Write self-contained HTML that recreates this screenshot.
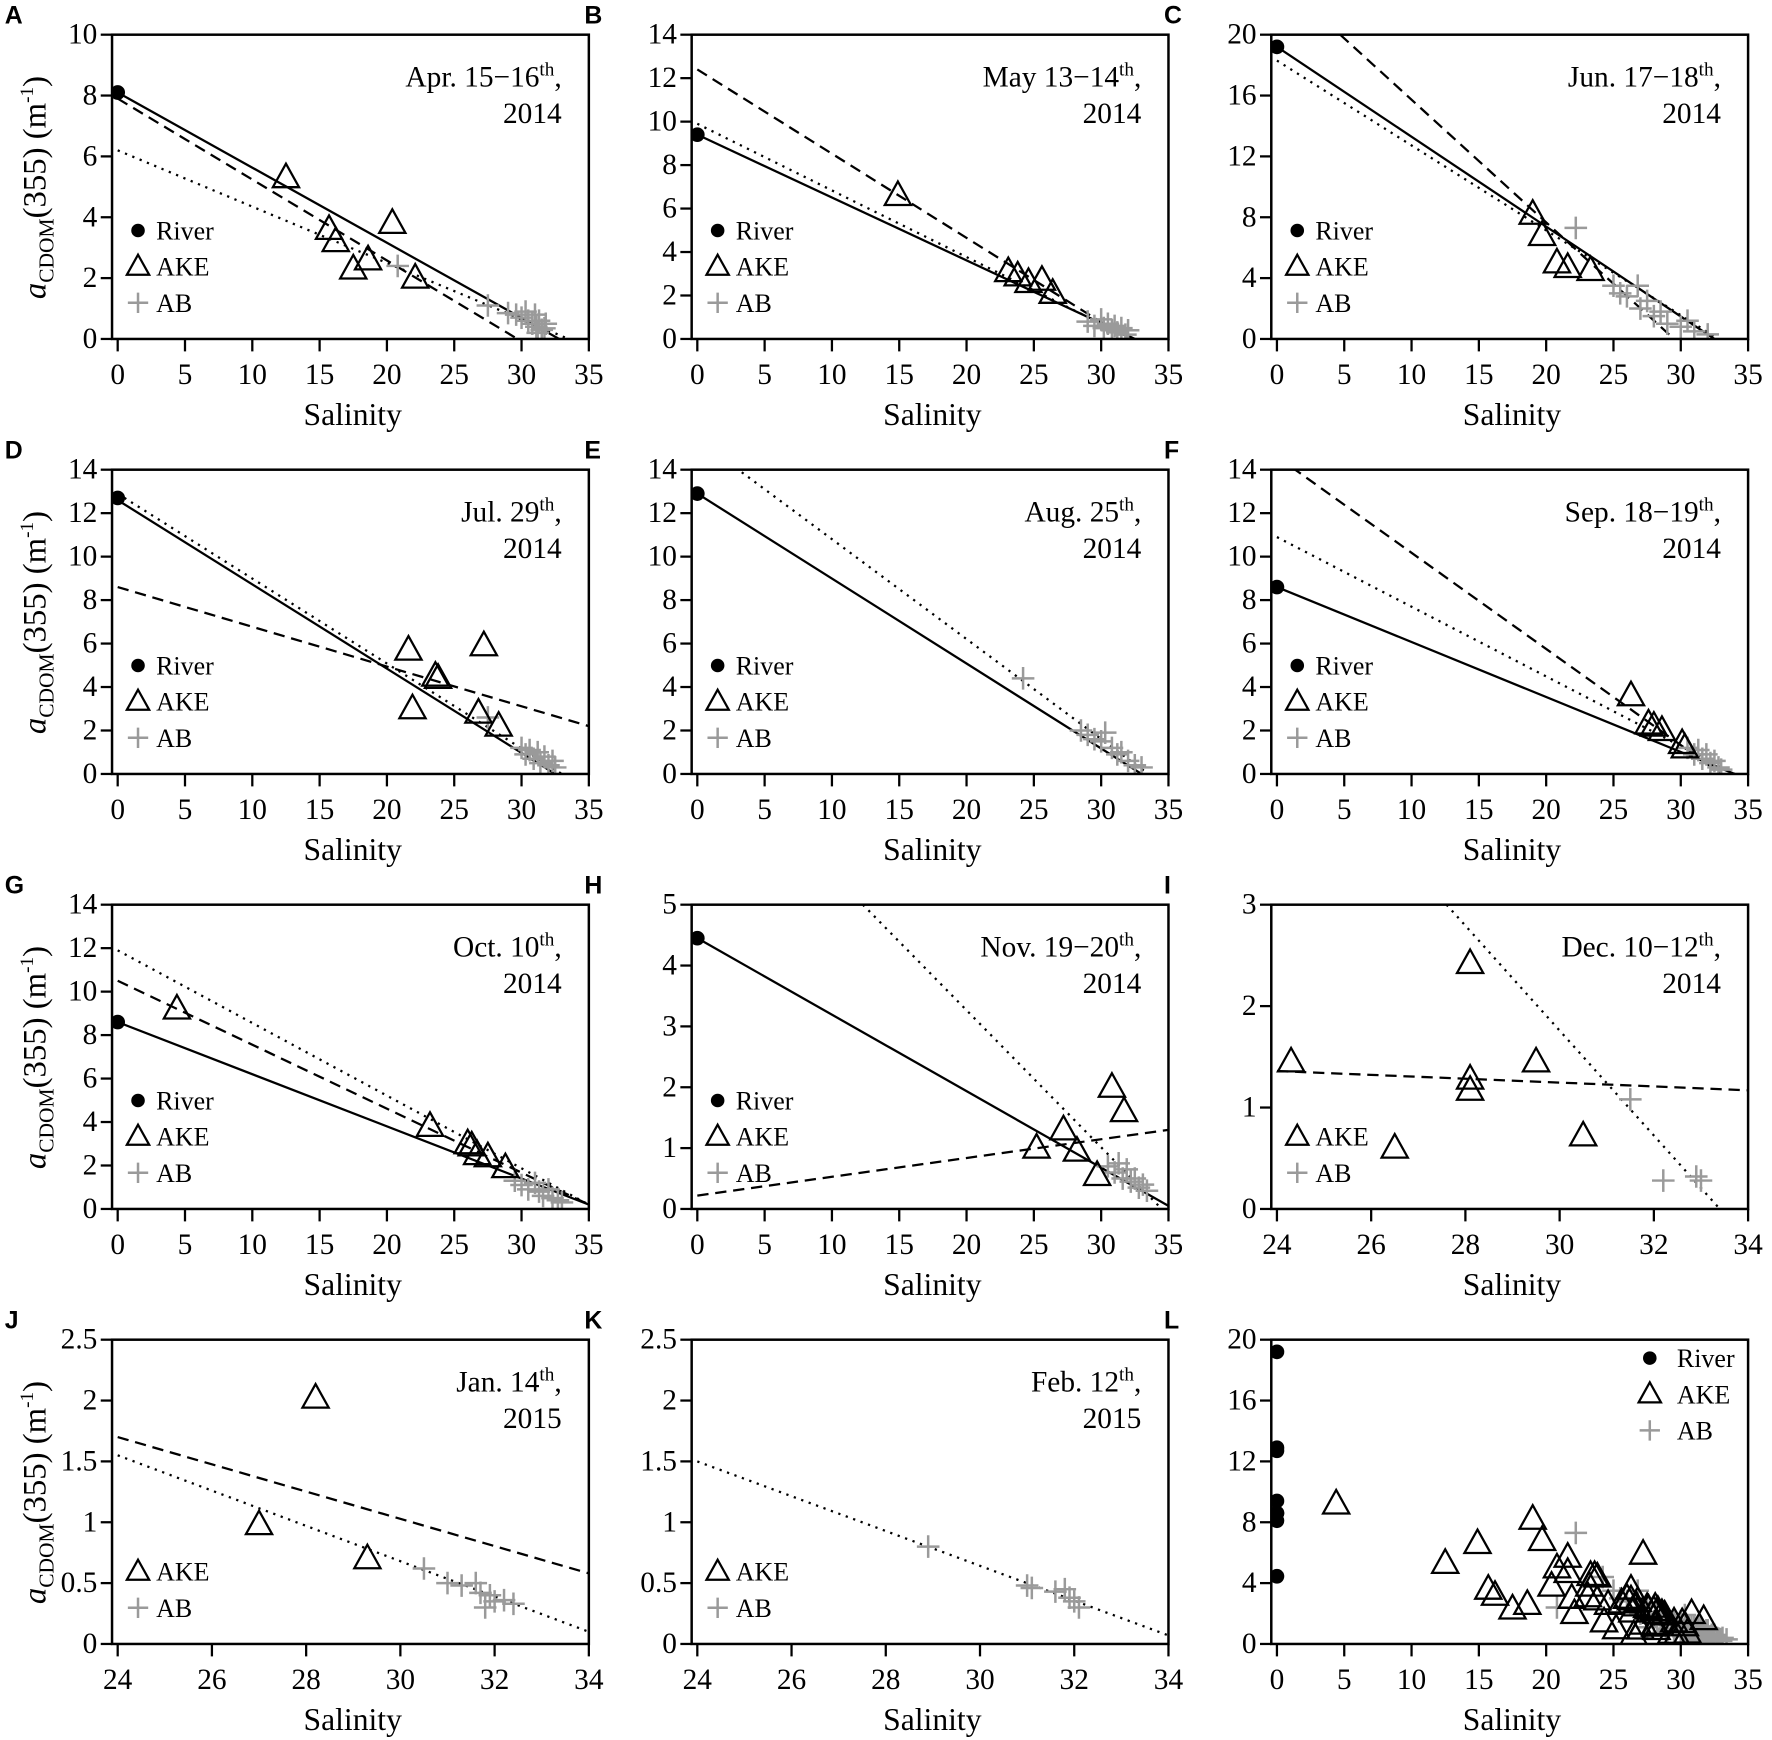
<!DOCTYPE html>
<html><head><meta charset="utf-8"><style>
html,body{margin:0;padding:0;background:#fff}
svg{display:block}
text{font-family:"Liberation Serif",serif;fill:#000}
</style></head><body>
<svg id="fig" width="1772" height="1740" viewBox="0 0 1568 1540" xmlns="http://www.w3.org/2000/svg"></svg>
<script>
// ---- data (salinity, aCDOM) ----
const A_river=[[0,8.1]];
const A_ake=[[12.5,5.3],[15.7,3.6],[16.2,3.2],[17.5,2.3],[18.6,2.6],[20.4,3.8],[22.1,2.0]];
const A_ab=[[20.8,2.4],[27.5,1.1],[29,0.85],[29.6,0.8],[30,0.7],[30.3,0.9],[30.5,0.6],[30.8,0.5],[31,0.8],[31.1,0.4],[31.3,0.6],[31.5,0.3],[31.7,0.35],[31.2,0.2],[31.8,0.5]];
const A_lines=[['solid',[0,8.1],[32.8,0]],['dash',[0,7.9],[29.7,0]],['dot',[0,6.2],[33.5,0]]];

const B_river=[[0,9.4]];
const B_ake=[[14.9,6.6],[23.1,3.1],[23.8,2.9],[24.6,2.6],[25.6,2.7],[26.4,2.1]];
const B_ab=[[29,0.8],[29.5,0.6],[30,0.9],[30.2,0.5],[30.5,0.7],[30.8,0.4],[31,0.6],[31.2,0.3],[31.5,0.5],[31.8,0.2],[32,0.4]];
const B_lines=[['solid',[0,9.4],[32.5,0]],['dash',[0,12.4],[32,0]],['dot',[0,9.9],[32.3,0]]];

const C_river=[[0,19.2]];
const C_ake=[[19,8.2],[19.7,6.8],[20.8,5.0],[21.6,4.7],[23.3,4.5]];
const C_ab=[[22.2,7.3],[25,3.5],[25.5,3],[26,2.8],[26.8,3.5],[27,2],[27.5,2.5],[28,1.5],[28.5,1.8],[29,1],[30,0.8],[30.5,1.2],[31,0.5],[32,0.3]];
const C_lines=[['solid',[0,19.2],[32.5,0]],['dash',[4.7,20],[29.5,0]],['dot',[0,18.3],[32.8,0]]];

const D_river=[[0,12.7]];
const D_ake=[[21.6,5.7],[21.9,3.0],[23.6,4.5],[23.8,4.4],[27.2,5.9],[26.8,2.8],[28.3,2.2]];
const D_ab=[[27.5,2.6],[30,1.2],[30.3,0.9],[30.6,1.1],[30.9,0.7],[31.2,1.0],[31.4,0.5],[31.7,0.8],[32,0.4],[32.3,0.6],[32.5,0.3]];
const D_lines=[['solid',[0,12.6],[32.5,0]],['dash',[0,8.6],[35,2.2]],['dot',[0,12.9],[33,0]]];

const E_river=[[0,12.9]];
const E_ake=[];
const E_ab=[[24.2,4.4],[28.5,2.0],[29,1.8],[29.5,1.6],[30,1.5],[30.3,1.9],[30.8,1.2],[31.2,0.9],[31.5,1.0],[32,0.6],[32.5,0.4],[33,0.3]];
const E_lines=[['solid',[0,12.9],[33,0]],['dot',[0,15.4],[33.5,0]]];

const F_river=[[0,8.6]];
const F_ake=[[26.3,3.6],[27.6,2.3],[28,2.2],[28.6,2.0],[30.1,1.4],[30.3,1.2]];
const F_ab=[[30.5,1.2],[31,0.9],[31.3,1.1],[31.6,0.7],[31.9,0.9],[32.2,0.5],[32.5,0.6],[32.8,0.3],[33,0.2]];
const F_lines=[['solid',[0,8.6],[34,0]],['dash',[0,14.6],[33,0]],['dot',[0,10.9],[34,0]]];

const G_river=[[0,8.6]];
const G_ake=[[4.4,9.2],[23.2,3.8],[26,3.0],[26.3,2.9],[26.7,2.5],[27.5,2.4],[28.8,1.9]];
const G_ab=[[29.5,1.3],[30,1.1],[30.5,0.9],[31,1.2],[31.3,0.8],[31.6,0.6],[32,0.9],[32.3,0.5],[32.7,0.4],[33,0.3]];
const G_lines=[['solid',[0,8.6],[35,0.2]],['dash',[0,10.5],[35,0.2]],['dot',[0,11.9],[35,0.2]]];

const H_river=[[0,4.45]];
const H_ake=[[25.2,1.0],[27.2,1.3],[28.2,0.95],[29.7,0.55],[30.8,2.0],[31.7,1.6]];
const H_ab=[[30.5,0.7],[31,0.6],[31.3,0.75],[31.6,0.5],[31.9,0.65],[32.2,0.45],[32.5,0.5],[32.8,0.35],[33.1,0.4],[33.4,0.3]];
const H_lines=[['solid',[0,4.45],[35,0.05]],['dash',[0,0.22],[35,1.3]],['dot',[12.3,5],[34.5,0]]];

const I_river=[];
const I_ake=[[24.3,1.45],[26.5,0.6],[28.1,2.42],[28.1,1.28],[28.1,1.17],[29.5,1.45],[30.5,0.72]];
const I_ab=[[31.5,1.08],[32.2,0.28],[32.9,0.32],[33,0.28]];
const I_lines=[['dash',[24,1.36],[34,1.17]],['dot',[27.6,3],[33.4,0]]];

const J_river=[];
const J_ake=[[28.2,2.02],[27,0.98],[29.3,0.7]];
const J_ab=[[30.5,0.62],[31,0.5],[31.3,0.48],[31.6,0.5],[31.7,0.42],[31.9,0.4],[32,0.35],[32.2,0.36],[32.4,0.33],[31.8,0.3]];
const J_lines=[['dash',[24,1.7],[34,0.58]],['dot',[24,1.55],[34,0.1]]];

const K_river=[];
const K_ake=[];
const K_ab=[[28.9,0.8],[31,0.48],[31.1,0.46],[31.6,0.43],[31.8,0.45],[31.9,0.38],[32,0.35],[32.1,0.3]];
const K_lines=[['dot',[24,1.5],[34,0.07]]];

const L_river=[].concat(A_river,B_river,C_river,D_river,E_river,F_river,G_river,H_river);
const L_ake=[].concat(A_ake,B_ake,C_ake,D_ake,F_ake,G_ake,H_ake,I_ake,J_ake);
const L_ab=[].concat(A_ab,B_ab,C_ab,D_ab,E_ab,F_ab,G_ab,H_ab,I_ab,J_ab,K_ab);

const salTicks=[0,5,10,15,20,25,30,35];
const salTicksB=[24,26,28,30,32,34];

const panels=[
 {id:'A',c:0,r:0,ymax:10,yt:[0,2,4,6,8,10],xt:salTicks,river:A_river,ake:A_ake,ab:A_ab,lines:A_lines,t1:'Apr. 15−16',t2:'2014',leg:['river','ake','ab']},
 {id:'B',c:1,r:0,ymax:14,yt:[0,2,4,6,8,10,12,14],xt:salTicks,river:B_river,ake:B_ake,ab:B_ab,lines:B_lines,t1:'May 13−14',t2:'2014',leg:['river','ake','ab']},
 {id:'C',c:2,r:0,ymax:20,yt:[0,4,8,12,16,20],xt:salTicks,river:C_river,ake:C_ake,ab:C_ab,lines:C_lines,t1:'Jun. 17−18',t2:'2014',leg:['river','ake','ab']},
 {id:'D',c:0,r:1,ymax:14,yt:[0,2,4,6,8,10,12,14],xt:salTicks,river:D_river,ake:D_ake,ab:D_ab,lines:D_lines,t1:'Jul. 29',t2:'2014',leg:['river','ake','ab']},
 {id:'E',c:1,r:1,ymax:14,yt:[0,2,4,6,8,10,12,14],xt:salTicks,river:E_river,ake:E_ake,ab:E_ab,lines:E_lines,t1:'Aug. 25',t2:'2014',leg:['river','ake','ab']},
 {id:'F',c:2,r:1,ymax:14,yt:[0,2,4,6,8,10,12,14],xt:salTicks,river:F_river,ake:F_ake,ab:F_ab,lines:F_lines,t1:'Sep. 18−19',t2:'2014',leg:['river','ake','ab']},
 {id:'G',c:0,r:2,ymax:14,yt:[0,2,4,6,8,10,12,14],xt:salTicks,river:G_river,ake:G_ake,ab:G_ab,lines:G_lines,t1:'Oct. 10',t2:'2014',leg:['river','ake','ab']},
 {id:'H',c:1,r:2,ymax:5,yt:[0,1,2,3,4,5],xt:salTicks,river:H_river,ake:H_ake,ab:H_ab,lines:H_lines,t1:'Nov. 19−20',t2:'2014',leg:['river','ake','ab']},
 {id:'I',c:2,r:2,ymax:3,yt:[0,1,2,3],xt:salTicksB,river:I_river,ake:I_ake,ab:I_ab,lines:I_lines,t1:'Dec. 10−12',t2:'2014',leg:['ake','ab']},
 {id:'J',c:0,r:3,ymax:2.5,yt:[0,0.5,1,1.5,2,2.5],xt:salTicksB,river:J_river,ake:J_ake,ab:J_ab,lines:J_lines,t1:'Jan. 14',t2:'2015',leg:['ake','ab']},
 {id:'K',c:1,r:3,ymax:2.5,yt:[0,0.5,1,1.5,2,2.5],xt:salTicksB,river:K_river,ake:K_ake,ab:K_ab,lines:K_lines,t1:'Feb. 12',t2:'2015',leg:['ake','ab']},
 {id:'L',c:2,r:3,ymax:20,yt:[0,4,8,12,16,20],xt:salTicks,river:L_river,ake:L_ake,ab:L_ab,lines:[],t1:null,leg:['river','ake','ab'],legRight:true}
];

const NS='http://www.w3.org/2000/svg';
const svg=document.getElementById('fig');
function mk(tag,attrs,parent){const e=document.createElementNS(NS,tag);for(const k in attrs)e.setAttribute(k,attrs[k]);(parent||svg).appendChild(e);return e;}

function drawTri(g,x,y,s){return mk('path',{d:`M${x},${y-s*0.62} L${x+s*0.58},${y+s*0.42} L${x-s*0.58},${y+s*0.42} Z`,fill:'none',stroke:'#000','stroke-width':2},g);}
function drawPlus(g,x,y,s){return mk('path',{d:`M${x-s},${y} H${x+s} M${x},${y-s} V${y+s}`,stroke:'#9a9a9a','stroke-width':2.2,fill:'none'},g);}

panels.forEach(p=>{
  const ox=p.c*513, oy=p.r*385;
  const L=99+ox, R=521+ox, T=30.7+oy, B=300+oy;
  const x0=p.xt[0], x1=p.xt[p.xt.length-1];
  const X=v=>104+ox+(v-x0)/(x1-x0)*417;
  const Y=v=>B-(v/p.ymax)*(B-T);
  const g=mk('g',{});
  
  
  const lab=mk('text',{x:4+ox,y:21+oy,'font-size':22,'font-weight':'bold',style:'font-family:"Liberation Sans",sans-serif'},g);
  lab.textContent=p.id;
  
  
  const cid='clip'+p.id;
  const cp=mk('clipPath',{id:cid},g); mk('rect',{x:L,y:T,width:R-L,height:B-T},cp);
  const lg=mk('g',{'clip-path':`url(#${cid})`},g);
  p.lines.forEach(l=>{
    const st=l[0];
    const ln=mk('line',{x1:X(l[1][0]),y1:Y(l[1][1]),x2:X(l[2][0]),y2:Y(l[2][1]),stroke:'#000','stroke-width':2,fill:'none'},lg);
    if(st==='dash')ln.setAttribute('stroke-dasharray','10 6');
    if(st==='dot'){ln.setAttribute('stroke-dasharray','2 5');}
    
    
  });
  const pg=mk('g',{'clip-path':`url(#${cid})`},g);
  p.ab.forEach(d=>{const e=drawPlus(pg,X(d[0]),Y(d[1]),10);
    
    });
  p.ake.forEach(d=>{const e=drawTri(pg,X(d[0]),Y(d[1]),20);
    
    });
  p.river.forEach(d=>{const e=mk('circle',{cx:X(d[0]),cy:Y(d[1]),r:6.5,fill:'#000'},pg);
    
    });
  const fr=mk('rect',{x:L,y:T,width:R-L,height:B-T,fill:'none',stroke:'#000','stroke-width':2.2},g);
  
  
  p.yt.forEach(v=>{
    mk('line',{x1:L-10,x2:L,y1:Y(v),y2:Y(v),stroke:'#000','stroke-width':2},g);
    const t=mk('text',{x:L-13,y:Y(v)+8,'font-size':26,'text-anchor':'end'},g);
    t.textContent=String(v);
    
    
  });
  p.xt.forEach(v=>{
    mk('line',{x1:X(v),x2:X(v),y1:B,y2:B+11,stroke:'#000','stroke-width':2},g);
    const t=mk('text',{x:X(v),y:B+40,'font-size':26,'text-anchor':'middle'},g);
    t.textContent=String(v);
    
    
  });
  const xt=mk('text',{x:(L+R)/2+2,y:B+76,'font-size':28,'text-anchor':'middle'},g);
  xt.textContent='Salinity';
  
  
  if(p.t1){
    const a=mk('text',{x:R-24,y:T+46,'font-size':26,'text-anchor':'end'},g);
    a.innerHTML=p.t1+'<tspan dy="-10" font-size="17">th</tspan><tspan dy="10">,</tspan>';
    
    
    const b=mk('text',{x:R-24,y:T+78,'font-size':26,'text-anchor':'end'},g);
    b.textContent=p.t2;
    
    
  }
  let lx=L+23, ly=oy+204, tx=L+39, step=32;
  if(!p.leg.includes('river')) ly=oy+236;
  if(p.legRight){lx=L+335; ly=oy+47; tx=L+359;}
  p.leg.forEach((k,i)=>{
    const y=ly+i*step;
    const lgE=mk('g',{},g);
    
    
    if(k==='river')mk('circle',{cx:lx,cy:y,r:6,fill:'#000'},lgE);
    if(k==='ake')drawTri(lgE,lx,y,17);
    if(k==='ab')drawPlus(lgE,lx,y,9);
    const t=mk('text',{x:tx,y:y+8,'font-size':23},lgE);
    t.textContent=k==='river'?'River':k==='ake'?'AKE':'AB';
  });
});
[0,1,2,3].forEach(r=>{
  const t=mk('text',{x:0,y:0,'font-size':29,'text-anchor':'middle',transform:`translate(40,${166+r*385}) rotate(-90)`});
  t.innerHTML='<tspan font-style="italic">a</tspan><tspan dy="7" font-size="19">CDOM</tspan><tspan dy="-7">(355) (m</tspan><tspan dy="-11" font-size="17">-1</tspan><tspan dy="11">)</tspan>';
  
  
});
</script>
</body></html>
